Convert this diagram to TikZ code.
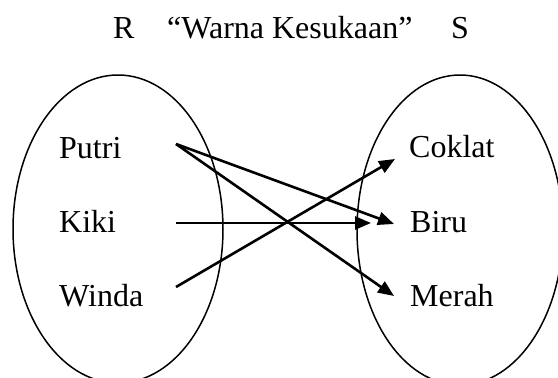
\documentclass[tikz,border=0pt]{standalone}
\usepackage{fontspec}
\setmainfont{Liberation Serif}
\usetikzlibrary{arrows.meta}

\begin{document}
\begin{tikzpicture}[
        x=1pt, y=-1pt,
        every node/.style={font=\fontsize{32}{38}\selectfont},
        item/.style={anchor=base west, inner sep=0pt},
        set/.style={draw=black, line width=1.5pt},
        arrow/.style={-{Triangle[length=16pt, width=13pt]}, line width=2.6pt}
    ]
        \useasboundingbox (0,0) rectangle (558,378);

        % Title
        \node[item] (R) at (113,38) {R};
        \node[item] (title) at (167,38) {“Warna Kesukaan”};
        \node[item] (S) at (451,38) {S};

        % Sets
        \draw[set] (118,229) ellipse [x radius=105pt, y radius=154pt];
        \draw[set] (460,230) ellipse [x radius=103pt, y radius=155pt];

        % Nodes
        \node[item] (putri) at (59,158) {Putri};
        \node[item] (kiki) at (59,232) {Kiki};
        \node[item] (winda) at (59,306) {Winda};

        \node[item] (coklat) at (409,157) {Coklat};
        \node[item] (biru) at (410,232) {Biru};
        \node[item] (merah) at (410,306) {Merah};

        % Arrow ends
        \coordinate (putri-out) at (176,144);
        \coordinate (kiki-out) at (176,223);
        \coordinate (winda-out) at (176,287);
        \coordinate (coklat-in) at (395,159);
        \coordinate (biru-in) at (394,224);
        \coordinate (biru-short) at (371,223);
        \coordinate (merah-in) at (394,296);

        % Paths
        \draw[arrow] (putri-out) -- (biru-in);
        \draw[arrow] (putri-out) -- (merah-in);
        \draw[arrow] (kiki-out) -- (biru-short);
        \draw[arrow] (winda-out) -- (coklat-in);
    \end{tikzpicture}
\end{document}
